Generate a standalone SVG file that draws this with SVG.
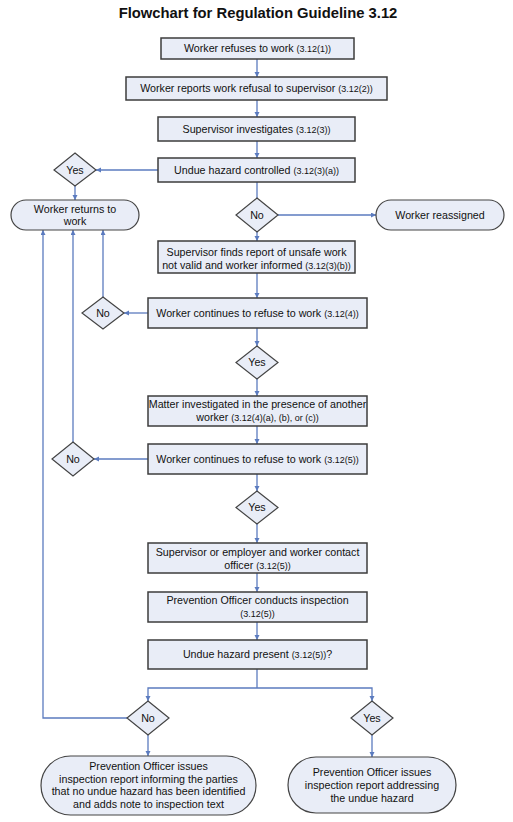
<svg xmlns="http://www.w3.org/2000/svg" width="513" height="822" viewBox="0 0 513 822">
<style>
.bg{fill:#ffffff}
.box{fill:#e9edf7;stroke:#3c3c3c;stroke-width:1.5}
.dia{fill:#e9edf7;stroke:#444444;stroke-width:1.2}
.term{fill:#e9edf7;stroke:#444444;stroke-width:1.2}
.t{font-family:"Liberation Sans",Arial,sans-serif;font-size:10.7px;fill:#111111;text-anchor:middle}
.s{font-size:9px}
.title{font-family:"Liberation Sans",Arial,sans-serif;font-size:14.8px;font-weight:bold;fill:#111111;text-anchor:middle}
.c{fill:none;stroke:#5b7bbf;stroke-width:1.3}
.a{marker-end:url(#arr)}
</style>
<defs>
<marker id="arr" markerUnits="userSpaceOnUse" markerWidth="6" markerHeight="6" refX="5" refY="2.5" orient="auto">
<path d="M0,0 L5,2.5 L0,5 z" fill="#5b7bbf"/>
</marker>
</defs>
<rect class="bg" x="0" y="0" width="513" height="822"/>
<text class="title" x="258" y="18">Flowchart for Regulation Guideline 3.12</text>

<g id="connectors">
<path class="c a" d="M257,59 V77"/>
<path class="c a" d="M257,100 V117"/>
<path class="c a" d="M257,141 V158"/>
<path class="c a" d="M158,170 H96"/>
<path class="c a" d="M75,186 V200"/>
<path class="c" d="M257,182 V198"/>
<path class="c a" d="M278,215 H376"/>
<path class="c a" d="M257,232 V241"/>
<path class="c a" d="M257,273 V298"/>
<path class="c a" d="M148,313 H124"/>
<path class="c a" d="M103,297 V230"/>
<path class="c a" d="M257,328 V346"/>
<path class="c a" d="M257,379 V396"/>
<path class="c a" d="M257,426 V444"/>
<path class="c a" d="M148,459 H94"/>
<path class="c a" d="M73,442 V230"/>
<path class="c a" d="M257,474 V491"/>
<path class="c a" d="M257,524 V543"/>
<path class="c a" d="M257,573 V592"/>
<path class="c a" d="M257,622 V640"/>
<path class="c" d="M257,669 V688"/>
<path class="c a" d="M257,688 H148 V701"/>
<path class="c a" d="M257,688 H372 V701"/>
<path class="c a" d="M127,718 H43 V230"/>
<path class="c a" d="M148,735 V756"/>
<path class="c a" d="M372,735 V757"/>
</g>

<g id="n1">
<rect class="box" x="161" y="38" width="193" height="21"/>
<text class="t" x="257.5" y="52">Worker refuses to work <tspan class="s">(3.12(1))</tspan></text>
</g>
<g id="n2">
<rect class="box" x="126" y="77" width="261" height="23"/>
<text class="t" x="256.5" y="92">Worker reports work refusal to supervisor <tspan class="s">(3.12(2))</tspan></text>
</g>
<g id="n3">
<rect class="box" x="158" y="117" width="197" height="24"/>
<text class="t" x="256.5" y="133">Supervisor investigates <tspan class="s">(3.12(3))</tspan></text>
</g>
<g id="n4">
<rect class="box" x="158" y="158" width="197" height="24"/>
<text class="t" x="256.5" y="174">Undue hazard controlled <tspan class="s">(3.12(3)(a))</tspan></text>
</g>
<g id="d_yes1">
<polygon class="dia" points="75,153 96,170 75,186 54,170"/>
<text class="t" x="75" y="174">Yes</text>
</g>
<g id="t_returns">
<rect class="term" x="11" y="200" width="128" height="30" rx="15" ry="15"/>
<text class="t" x="75" y="213">Worker returns to</text>
<text class="t" x="75" y="225">work</text>
</g>
<g id="d_no1">
<polygon class="dia" points="257,198 278,215 257,232 236,215"/>
<text class="t" x="257" y="219">No</text>
</g>
<g id="t_reassigned">
<rect class="term" x="376" y="200" width="128" height="30" rx="15" ry="15"/>
<text class="t" x="440" y="219">Worker reassigned</text>
</g>
<g id="n5">
<rect class="box" x="158" y="241" width="197" height="32"/>
<text class="t" x="256.5" y="256">Supervisor finds report of unsafe work</text>
<text class="t" x="256.5" y="269">not valid and worker informed <tspan class="s">(3.12(3)(b))</tspan></text>
</g>
<g id="n6">
<rect class="box" x="148" y="298" width="219" height="30"/>
<text class="t" x="257.5" y="317">Worker continues to refuse to work <tspan class="s">(3.12(4))</tspan></text>
</g>
<g id="d_no2">
<polygon class="dia" points="103,297 124,313 103,329 82,313"/>
<text class="t" x="103" y="317">No</text>
</g>
<g id="d_yes2">
<polygon class="dia" points="257,346 278,362.5 257,379 236,362.5"/>
<text class="t" x="257" y="366">Yes</text>
</g>
<g id="n7">
<rect class="box" x="148" y="396" width="219" height="30"/>
<text class="t" x="257.5" y="408">Matter investigated in the presence of another</text>
<text class="t" x="257.5" y="421">worker <tspan class="s">(3.12(4)(a), (b), or (c))</tspan></text>
</g>
<g id="n8">
<rect class="box" x="148" y="444" width="219" height="30"/>
<text class="t" x="257.5" y="463">Worker continues to refuse to work <tspan class="s">(3.12(5))</tspan></text>
</g>
<g id="d_no3">
<polygon class="dia" points="73,442 94,459 73,476 52,459"/>
<text class="t" x="73" y="463">No</text>
</g>
<g id="d_yes3">
<polygon class="dia" points="257,491 278,507.5 257,524 236,507.5"/>
<text class="t" x="257" y="511">Yes</text>
</g>
<g id="n9">
<rect class="box" x="148" y="543" width="219" height="30"/>
<text class="t" x="257.5" y="556">Supervisor or employer and worker contact</text>
<text class="t" x="257.5" y="569">officer <tspan class="s">(3.12(5))</tspan></text>
</g>
<g id="n10">
<rect class="box" x="148" y="592" width="219" height="30"/>
<text class="t" x="257.5" y="604">Prevention Officer conducts inspection</text>
<text class="t" x="257.5" y="617"><tspan class="s">(3.12(5))</tspan></text>
</g>
<g id="n11">
<rect class="box" x="148" y="640" width="219" height="29"/>
<text class="t" x="257.5" y="658">Undue hazard present <tspan class="s">(3.12(5))</tspan>?</text>
</g>
<g id="d_no4">
<polygon class="dia" points="148,701 169,718 148,735 127,718"/>
<text class="t" x="148" y="722">No</text>
</g>
<g id="d_yes4">
<polygon class="dia" points="372,701 393,718 372,735 351,718"/>
<text class="t" x="372" y="722">Yes</text>
</g>
<g id="t_no_hazard">
<rect class="term" x="41" y="756" width="215" height="59" rx="29.5" ry="29.5"/>
<text class="t" x="148.5" y="770">Prevention Officer issues</text>
<text class="t" x="148.5" y="783">inspection report informing the parties</text>
<text class="t" x="148.5" y="795">that no undue hazard has been identified</text>
<text class="t" x="148.5" y="808">and adds note to inspection text</text>
</g>
<g id="t_hazard">
<rect class="term" x="288" y="757" width="168" height="56" rx="28" ry="28"/>
<text class="t" x="372" y="776">Prevention Officer issues</text>
<text class="t" x="372" y="789">inspection report addressing</text>
<text class="t" x="372" y="802">the undue hazard</text>
</g>
</svg>
